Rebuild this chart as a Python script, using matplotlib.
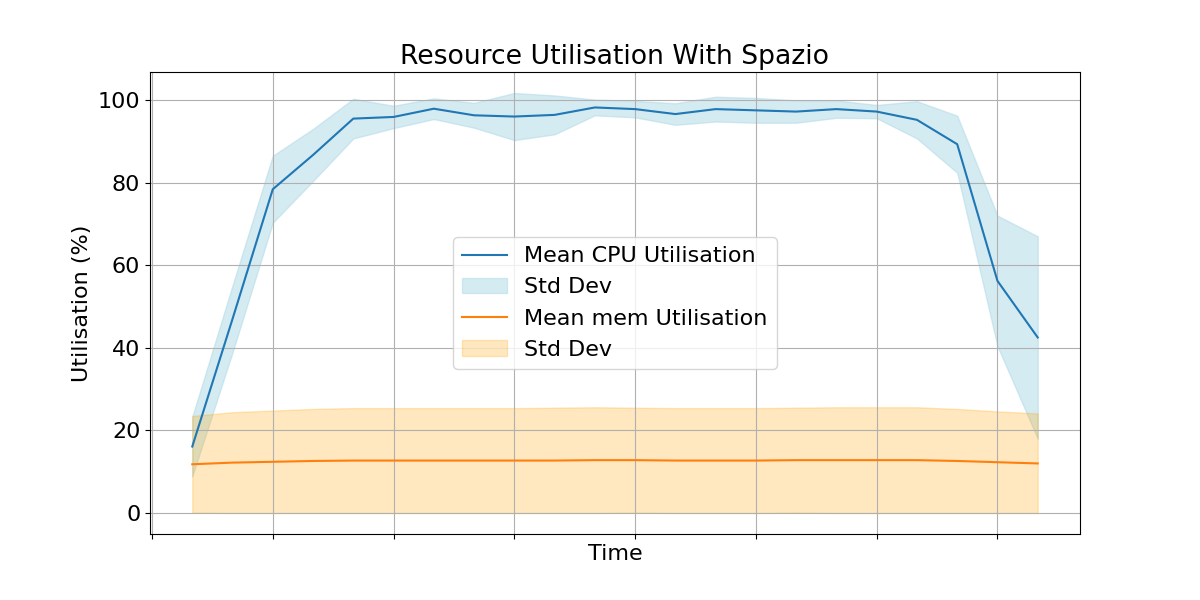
import numpy as np
import matplotlib
matplotlib.use("Agg")
import matplotlib.pyplot as plt

plt.rcParams['font.size'] = 16

# sample index along the run
time = np.arange(1, 23)

cpu_mean = [16.1, 47.0, 78.4, 86.7, 95.5, 95.9, 97.9, 96.3, 96.0, 96.4, 98.2,
            97.8, 96.6, 97.8, 97.5, 97.2, 97.8, 97.2, 95.2, 89.3, 56.2, 42.5]
cpu_std = [7.2, 8.1, 8.1, 6.3, 4.8, 2.7, 2.5, 3.0, 5.7, 4.7, 1.9,
           2.0, 2.6, 3.0, 3.0, 2.7, 2.1, 1.6, 4.5, 6.9, 15.8, 24.5]

mem_mean = [11.8, 12.2, 12.4, 12.6, 12.7, 12.7, 12.7, 12.7, 12.7, 12.7, 12.8,
            12.8, 12.7, 12.7, 12.7, 12.8, 12.8, 12.8, 12.8, 12.6, 12.3, 12.0]
mem_std = [11.7, 12.2, 12.4, 12.6, 12.7, 12.7, 12.7, 12.7, 12.7, 12.8, 12.8,
           12.7, 12.7, 12.7, 12.7, 12.7, 12.8, 12.8, 12.8, 12.6, 12.3, 12.1]

cpu_mean = np.array(cpu_mean)
cpu_std = np.array(cpu_std)
mem_mean = np.array(mem_mean)
mem_std = np.array(mem_std)

plt.figure(figsize=(12, 6), dpi=100)
plt.plot(time, cpu_mean, label="Mean CPU Utilisation", color='tab:blue')
plt.fill_between(time, cpu_mean - cpu_std, cpu_mean + cpu_std,
                 color='lightblue', alpha=0.5, label="Std Dev")
plt.plot(time, mem_mean, label="Mean mem Utilisation", color='tab:orange')
plt.fill_between(time, np.clip(mem_mean - mem_std, 0, None), mem_mean + mem_std,
                 color='orange', alpha=0.25, label="Std Dev")

plt.title("Resource Utilisation With Spazio")
plt.xlabel("Time")
plt.ylabel("Utilisation (%)")
plt.xticks(np.arange(0, 22, 3))
plt.tick_params(axis='x', labelbottom=False)
plt.legend(loc='center')
plt.grid(True)

plt.savefig("out.png")
